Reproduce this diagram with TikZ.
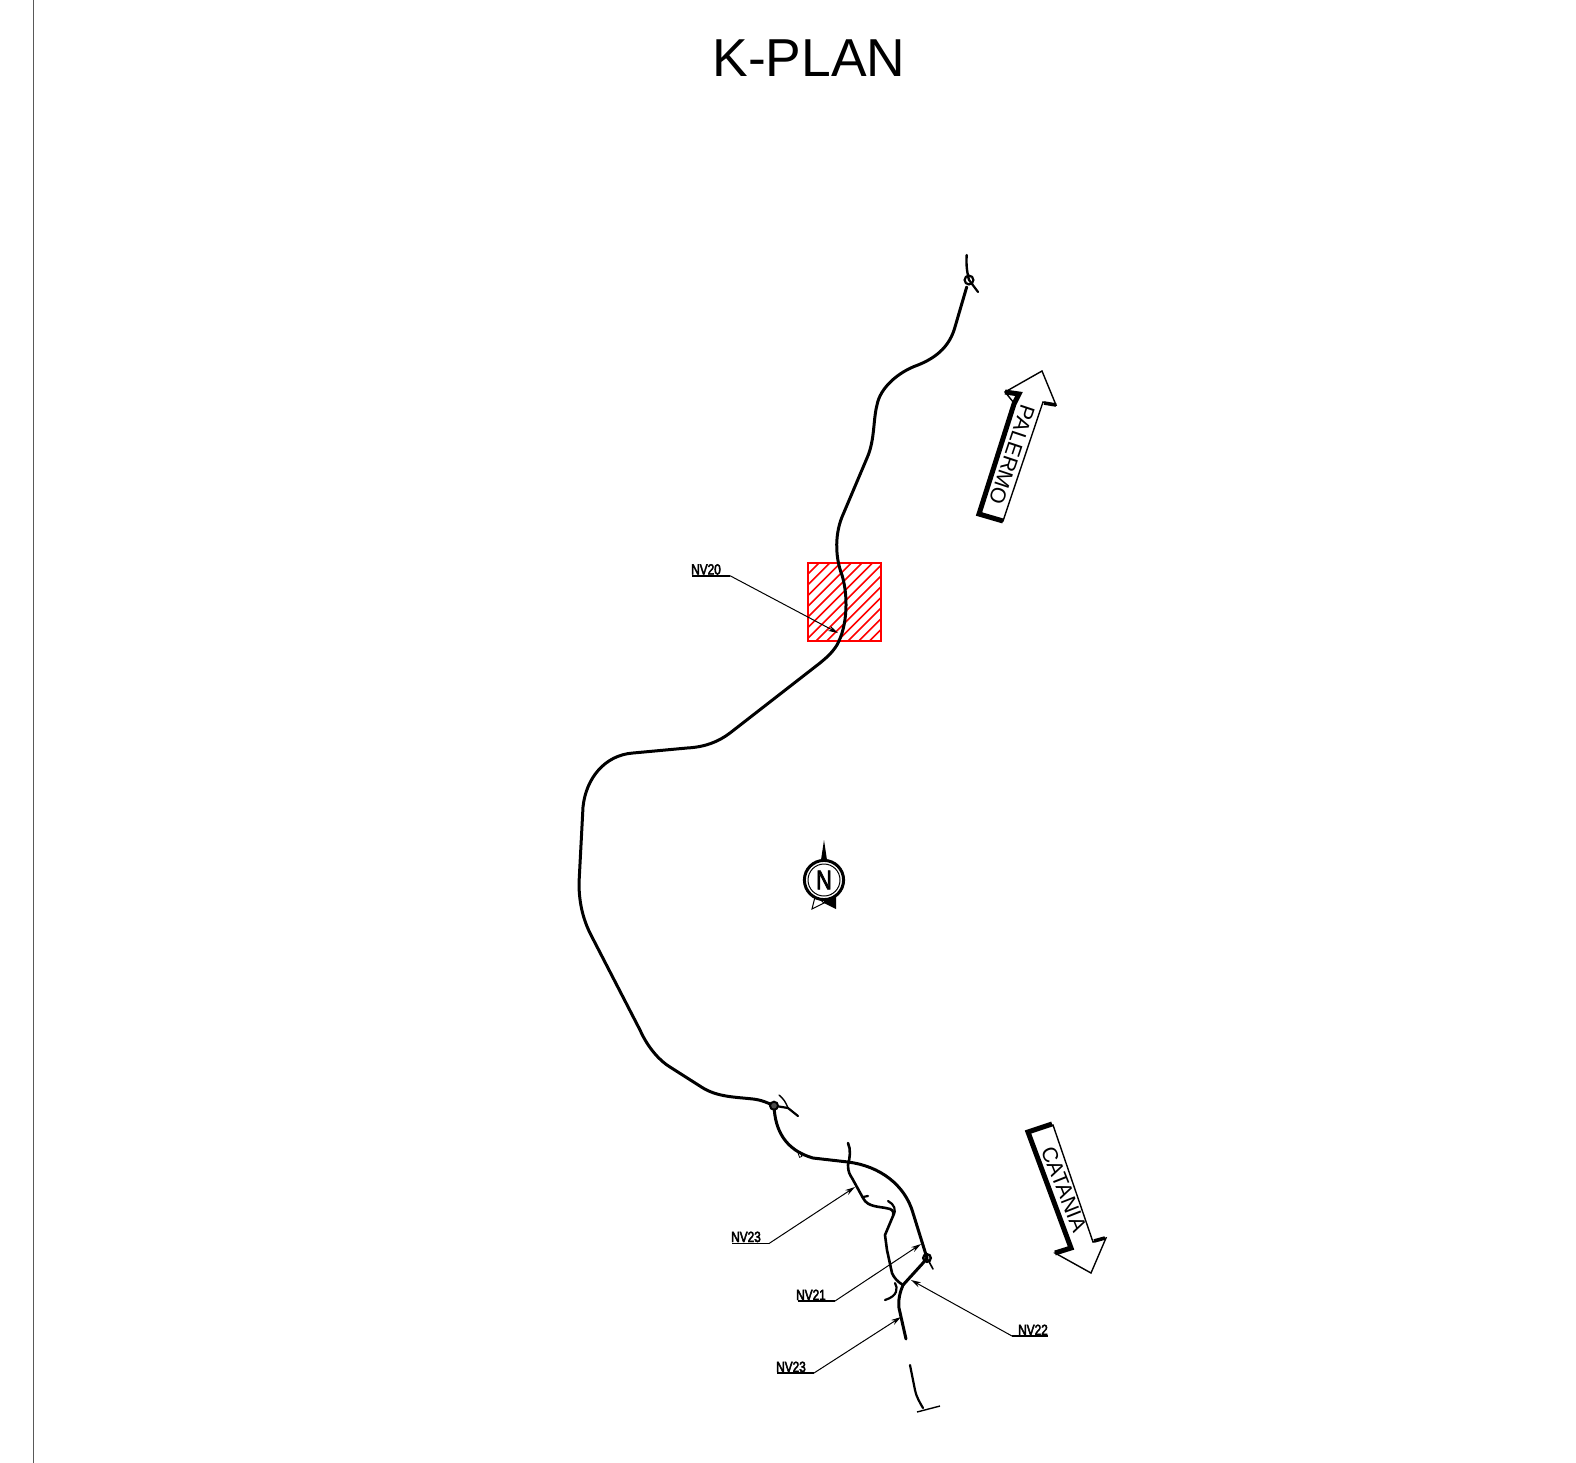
\documentclass[tikz,border=0pt]{standalone}
\usepackage{fontspec}
\setmainfont{Liberation Sans}
\newfontfamily\nvfont[FakeStretch=0.8,FakeBold=3]{Liberation Sans}
\usetikzlibrary{arrows.meta}
\tikzset{
  road/.style={line width=1.5pt,line cap=round,line join=round,black},
  minor/.style={line width=1.1pt,line cap=round,line join=round,black},
  leader/.style={line width=0.5pt,black},
  underline/.style={line width=0.8pt,black},
  leadarrow/.style={leader,-{Stealth[length=5pt,width=2.8pt]}},
  nvlabel/.style={font=\nvfont\fontsize{7.4pt}{8pt}\selectfont,inner sep=0pt,anchor=base},
  arrowoutline/.style={line width=0.7pt,black,line join=miter,fill=white},
  arrowthick/.style={line width=2.5pt,black,line join=miter,line cap=butt},
  place/.style={font=\fontsize{10.7pt}{11pt}\selectfont,inner sep=0pt}
}
\begin{document}
\begin{tikzpicture}[x=0.5pt,y=-0.5pt]
\useasboundingbox (0,0) rectangle (1576,1463);
\fill[white] (0,0) rectangle (1576,1463);
\draw[line width=0.6pt,black!65] (33.5,0) -- (33.5,1463);
\node[font=\fontsize{26.7pt}{30pt}\selectfont,inner sep=0pt] (title) at (809,58) {K-PLAN};

% hatched red square
\begin{scope}
\clip (807.7,562.7) rectangle (881,641.3);
\foreach \k in {-100,-89.3,...,100}{
  \draw[red,line width=0.8pt] (790+\k,660) -- (790+\k+120,540);
}
\end{scope}
\draw[red,line width=0.9pt] (807.7,562.7) rectangle (881,641.3);

% main road
\draw[road] (966.7,287) -- (955,327) .. controls (950,345) and (938,357) .. (918,365)
 .. controls (898,372) and (880,388) .. (877,405) .. controls (873,420) and (875,440) .. (867,458)
 -- (842,517) .. controls (834,537) and (836,560) .. (842,575) .. controls (848,595) and (848,625) .. (837,645)
 .. controls (832,653) and (826,658) .. (820,663) -- (730,733) .. controls (718,742) and (705,747) .. (687,748)
 -- (633,753) .. controls (605,755) and (586,778) .. (583,807) -- (579,883) .. controls (579,905) and (584,922) .. (592,937)
 -- (640,1030) .. controls (648,1048) and (660,1061) .. (670,1067) -- (703,1088)
 .. controls (718,1097) and (735,1097) .. (753,1099) .. controls (762,1100) and (768,1103) .. (774,1105.7);
\draw[road] (774,1105.7) .. controls (775,1130) and (785,1150) .. (813,1158) -- (848,1162)
 .. controls (880,1166) and (905,1185) .. (913,1213) -- (927,1258);
% top end
\draw[road,line width=1.2pt] (966.7,255) .. controls (966,265) and (967,272) .. (969,280);
\draw[minor] (969,280) -- (978,292);
\draw[line width=1.1pt] (969,280) circle[radius=2.2pt];
% first roundabout branch
\draw[minor] (774,1105.7) -- (788,1108) -- (798,1116);
\draw[minor,line width=.7pt] (779,1095) .. controls (784,1099) and (786,1103) .. (788,1108);
\draw[line width=1pt,fill=black!70] (774,1105.7) circle[radius=2pt];
\draw[line width=.4pt,rotate around={20:(800,1155)}] (798.8,1152) rectangle (801.2,1157);
% second roundabout
\draw[road] (927,1258) -- (923,1263) -- (903,1285);
\draw[minor,line width=.8pt] (927,1258) -- (933,1269);
\draw[line width=1.2pt] (927,1258) circle[radius=1.9pt];
% NV23 branch
\draw[road,line width=1.3pt] (848,1143) .. controls (851,1150) and (850,1157) .. (848,1165) .. controls (848,1172) and (850,1175) .. (852,1178)
 -- (863,1198) .. controls (868,1208) and (880,1206) .. (890,1209) .. controls (893,1210) and (894,1213) .. (893,1216)
 -- (885,1235) -- (887,1250) -- (892,1273) .. controls (894,1278) and (898,1282) .. (903,1285);
\draw[minor] (863,1197) -- (868,1196);
\draw[minor] (888,1201) .. controls (894,1204) and (897,1210) .. (893,1216);
\draw[road] (903,1285) .. controls (900,1292) and (898,1300) .. (899,1308) -- (906,1339);
\draw[minor] (895,1283) .. controls (898,1288) and (898,1296) .. (885,1300);
% lower stretch
\draw[minor] (910,1365) -- (915,1390) .. controls (916,1396) and (920,1403) .. (923,1408);
\draw[leader,line width=.7pt] (917,1412) -- (940,1406);

% leaders
\node[nvlabel] (nv20) at (706,574.5) {NV20};
\coordinate (a20) at (692,575.7); \coordinate (b20) at (730,575.7); \coordinate (c20) at (838,633);
\draw[underline] (a20) -- (b20);
\draw[leadarrow] (b20) -- (c20);

\node[nvlabel] (nv23a) at (746,1242) {NV23};
\coordinate (a23) at (732,1243.5); \coordinate (b23) at (769,1243.5); \coordinate (c23) at (855,1187);
\draw[underline] (a23) -- (b23);
\draw[leadarrow] (b23) -- (c23);

\node[nvlabel] (nv21) at (811,1300) {NV21};
\coordinate (a21) at (798,1301); \coordinate (b21) at (835,1301); \coordinate (c21) at (921,1244);
\draw[underline] (a21) -- (b21);
\draw[leadarrow] (b21) -- (c21);

\node[nvlabel] (nv22) at (1033,1335) {NV22};
\coordinate (a22) at (1048,1336); \coordinate (b22) at (1012,1336); \coordinate (c22) at (911,1280);
\draw[underline] (a22) -- (b22);
\draw[leadarrow] (b22) -- (c22);

\node[nvlabel] (nv23b) at (791,1372) {NV23};
\coordinate (a23b) at (777,1373); \coordinate (b23b) at (814,1373); \coordinate (c23b) at (901,1317);
\draw[underline] (a23b) -- (b23b);
\draw[leadarrow] (b23b) -- (c23b);

% Palermo arrow
\draw[arrowoutline] (1042,371) -- (1056,405) -- (1043,402) -- (1003,521) -- (978,514) -- (1014,403) -- (1005,392) -- cycle;
\draw[arrowthick] (1003,521) -- (979,514) -- (1014,404) -- (1019,394) -- (1005,392);
\draw[arrowthick,line width=1.8pt] (1044,403) -- (1056,405);
\node[place,rotate=-108.5] (palermo) at (1012,455) {PALERMO};

% Catania arrow
\draw[arrowoutline] (1053,1125) -- (1093,1242) -- (1106,1238) -- (1091,1273) -- (1055,1253) -- (1071,1248) -- (1027,1132) -- cycle;
\draw[arrowthick] (1052,1124) -- (1028,1132) -- (1071,1248) -- (1055,1253);
\draw[arrowthick,line width=1.8pt] (1094,1241) -- (1105,1238);
\node[place,rotate=-68.5] (catania) at (1064,1189) {CATANIA};

% north symbol
\fill (824,840) -- (827,860) -- (821,860) -- cycle;
\draw[line width=.5pt,fill=white] (815.5,895) -- (812,909) -- (824,903) -- cycle;
\fill (824,893) -- (836,897) -- (836,909) -- (824,903) -- cycle;
\draw[line width=1.5pt,fill=white] (824,880) circle[radius=9.8pt];
\draw[line width=0.5pt] (824,880) circle[radius=8pt];
\node[font=\nvfont\fontsize{13.5pt}{14pt}\selectfont,inner sep=0pt] (north) at (824,880) {N};
\end{tikzpicture}
\end{document}
